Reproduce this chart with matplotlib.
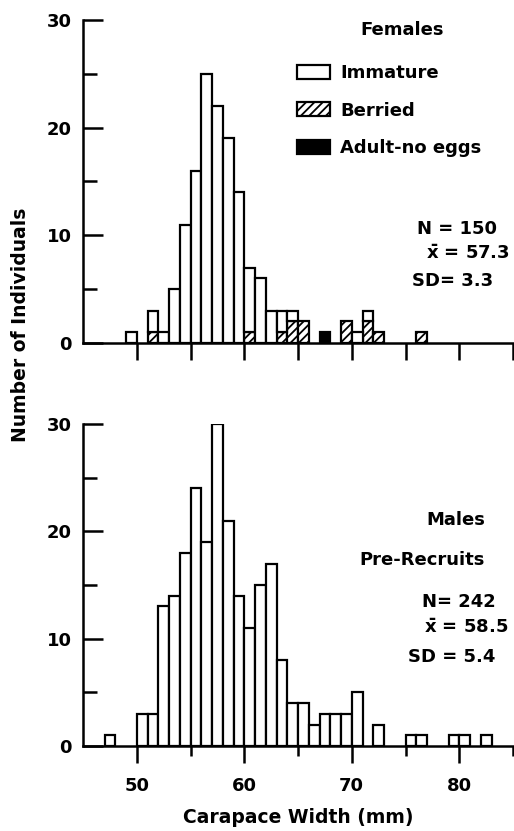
import numpy as np
import matplotlib
matplotlib.use('Agg')
import matplotlib.pyplot as plt
from matplotlib.patches import Patch

plt.rcParams['font.family'] = ['DejaVu Sans']
plt.rcParams['font.weight'] = 'bold'
plt.rcParams['axes.labelweight'] = 'bold'
plt.rcParams['font.size'] = 13
plt.rcParams['mathtext.fontset'] = 'dejavusans'
plt.rcParams['hatch.linewidth'] = 1.3

# females: lower edge of each 1 mm class and counts per category
fem_width = [49, 51, 52, 53, 54, 55, 56, 57, 58, 59, 60, 61, 62, 63, 64, 65, 67, 69, 70, 71, 72, 76]
fem_immature = [1, 2, 1, 5, 11, 16, 25, 22, 19, 14, 6, 6, 3, 2, 1, 0, 0, 0, 1, 1, 0, 0]
fem_berried = [0, 1, 0, 0, 0, 0, 0, 0, 0, 0, 1, 0, 0, 1, 2, 2, 0, 2, 0, 2, 1, 1]
fem_adult = [0, 0, 0, 0, 0, 0, 0, 0, 0, 0, 0, 0, 0, 0, 0, 0, 1, 0, 0, 0, 0, 0]

# males (pre-recruits)
male_width = [47, 50, 51, 52, 53, 54, 55, 56, 57, 58, 59, 60, 61, 62, 63, 64, 65, 66, 67, 68, 69, 70,
              72, 75, 76, 79, 80, 82]
male_count = [1, 3, 3, 13, 14, 18, 24, 19, 30, 21, 14, 11, 15, 17, 8, 4, 4, 2, 3, 3, 3, 5,
              2, 1, 1, 1, 1, 1]

fem_stats = ['N = 150', r'$\mathbf{\bar{x}}$ = 57.3', 'SD= 3.3']
male_stats = ['N= 242', r'$\mathbf{\bar{x}}$ = 58.5', 'SD = 5.4']

W, H = 514, 831
fig = plt.figure(figsize=(W / 100, H / 100), dpi=100)
ax1 = fig.add_axes([83 / W, 1 - 343 / H, 430 / W, 323 / H])
ax2 = fig.add_axes([83 / W, 1 - 746 / H, 430 / W, 322 / H])

lw = 1.6
fw = np.array(fem_width)
imm = np.array(fem_immature)
ber = np.array(fem_berried)
adu = np.array(fem_adult)

m = ber > 0
ax1.bar(fw[m], ber[m], width=1, align='edge', facecolor='white', edgecolor='black',
        hatch='////', linewidth=lw)
m = imm > 0
ax1.bar(fw[m], imm[m], width=1, align='edge', bottom=ber[m], facecolor='white',
        edgecolor='black', linewidth=lw)
m = adu > 0
ax1.bar(fw[m], adu[m], width=1, align='edge', bottom=(ber + imm)[m], facecolor='black',
        edgecolor='black', linewidth=lw)

ax2.bar(male_width, male_count, width=1, align='edge', facecolor='white', edgecolor='black',
        linewidth=lw)

for ax in (ax1, ax2):
    ax.set_xlim(45, 85)
    ax.set_ylim(0, 30)
    ax.spines['top'].set_visible(False)
    ax.spines['right'].set_visible(False)
    ax.spines['left'].set_linewidth(1.8)
    ax.spines['bottom'].set_linewidth(1.8)
    ax.set_yticks([0, 10, 20, 30])
    ax.set_yticks([5, 15, 25], minor=True)
    ax.tick_params(axis='y', which='major', direction='in', length=14.5, width=1.8, pad=8)
    ax.tick_params(axis='y', which='minor', direction='in', length=10, width=1.8)

ax1.set_xticks(np.arange(50, 86, 5))
ax1.tick_params(axis='x', direction='out', length=12, width=1.8, labelbottom=False)

ax2.set_xticks([50, 60, 70, 80])
ax2.set_xticks([55, 65, 75, 85], minor=True)
ax2.tick_params(axis='x', which='major', direction='out', length=12.5, width=1.8, pad=10)
ax2.tick_params(axis='x', which='minor', direction='out', length=7, width=1.8)
ax2.set_xlabel('Carapace Width (mm)', labelpad=9, fontsize=13.5, fontweight='bold')

fig.text(21 / W, 1 - 325 / H, 'Number of Individuals', rotation=90, ha='center', va='center',
         fontsize=13.5)

# female panel labels
fig.text(402 / W, 1 - 30 / H, 'Females', ha='center', va='center')
handles = [Patch(facecolor='white', edgecolor='black', linewidth=lw, label='Immature'),
           Patch(facecolor='white', edgecolor='black', linewidth=lw, hatch='////', label='Berried'),
           Patch(facecolor='black', edgecolor='black', linewidth=lw, label='Adult-no eggs')]
ax1.legend(handles=handles, loc='upper left', bbox_to_anchor=(297 / W, 1 - 64 / H),
           bbox_transform=fig.transFigure, frameon=False, borderpad=0, borderaxespad=0,
           handlelength=1.85, handleheight=0.8, handletextpad=0.55, labelspacing=1.08)

ys = [229, 254, 281]
xs = [457, 468, 453]
for s, x, y in zip(fem_stats, xs, ys):
    fig.text(x / W, 1 - y / H, s, ha='center', va='center')

# male panel labels
fig.text(456 / W, 1 - 520 / H, 'Males', ha='center', va='center')
fig.text(422 / W, 1 - 560 / H, 'Pre-Recruits', ha='center', va='center')
ys = [602, 628, 657]
xs = [459, 466, 452]
for s, x, y in zip(male_stats, xs, ys):
    fig.text(x / W, 1 - y / H, s, ha='center', va='center')

fig.savefig('out.png', dpi=100)
